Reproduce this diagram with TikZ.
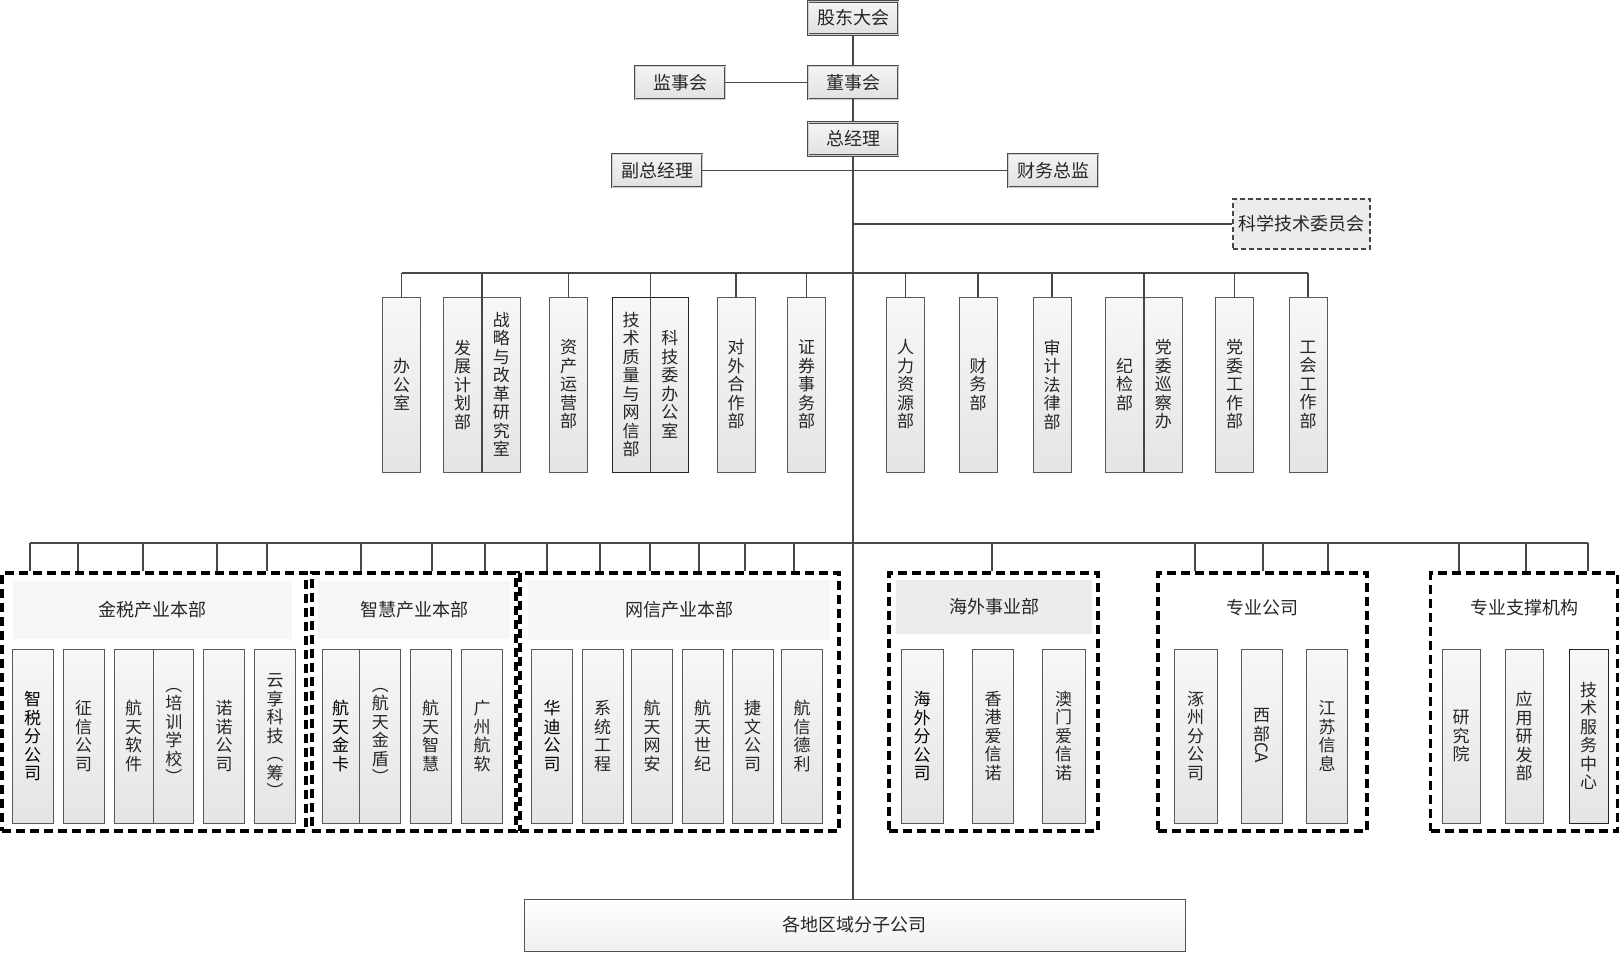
\documentclass[tikz,border=0pt]{standalone}
\usepackage{fontspec}
\usepackage{graphicx}
\setmainfont{Noto Sans CJK SC}
\newcommand\busdrop[2]{\draw[conn] (bus2 -| #1,0) -- (#2.north -| #1,0);}
\begin{document}
\begin{tikzpicture}[x=1pt,y=-1pt,
  conn/.style={draw=black!72, line width=1.2pt},
  topbox/.style={draw=black!70, double=gray!40, double distance=0.8pt, line width=0.8pt,
    top color=gray!8, bottom color=gray!24, minimum width=90pt, minimum height=33pt,
    inner sep=0pt, font=\fontsize{18}{20}\selectfont, text=black!85},
  col/.style={draw=gray!70!black, line width=0.8pt, top color=gray!6, bottom color=gray!21,
    minimum width=38pt, minimum height=175pt, inner sep=0pt, align=center,
    font=\fontsize{17}{18.5}\selectfont, text=black!85},
  dcol/.style={col, draw=black!85},
  kid/.style={col, minimum width=41pt, minimum height=174pt},
  grp/.style={draw=black, line width=3.2pt, dash pattern=on 9pt off 5pt, inner sep=0pt},
  band/.style={fill=gray!7, inner sep=0pt, font=\fontsize{18}{20}\selectfont, text=black!85},
  ttl/.style={inner sep=0pt, font=\fontsize{18}{20}\selectfont, text=black!85}
]
\useasboundingbox (0,0) rectangle (1621,954);

% top hierarchy
\node[topbox] (gd) at (853,18) {股东大会};
\node[topbox] (dsh) at (853,82.5) {董事会};
\node[topbox] (jsh) at (680,82.5) {监事会};
\node[topbox] (zjl) at (853,139) {总经理};
\node[topbox] (fzjl) at (657,170.5) {副总经理};
\node[topbox] (cwzj) at (1053,170.5) {财务总监};
\node[draw=gray!55!black, line width=1.2pt, dash pattern=on 5pt off 3pt, fill=gray!16,
  minimum width=137pt, minimum height=50pt, inner sep=0pt,
  font=\fontsize{18}{20}\selectfont, text=black!85] (kjw) at (1301.5,224) {科学技术委员会};

% bottom box
\node[draw=gray!65!black, line width=1pt, top color=white, bottom color=gray!12,
  minimum width=661pt, minimum height=52pt, inner sep=0pt,
  font=\fontsize{18}{20}\selectfont, text=black!85] (dq) at (854.5,925) {各地区域分子公司};

% departments row
\node[col] (c1) at (401.5,384.5) {办\\公\\室};
\node[col] (c2) at (462.5,384.5) {发\\展\\计\\划\\部};
\node[col, anchor=west] (c3) at (c2.east) {战\\略\\与\\改\\革\\研\\究\\室};
\node[col] (c4) at (568.5,384.5) {资\\产\\运\\营\\部};
\node[dcol] (c5) at (631,384.5) {技\\术\\质\\量\\与\\网\\信\\部};
\node[dcol, anchor=west] (c6) at (c5.east) {科\\技\\委\\办\\公\\室};
\node[col] (c7) at (736,384.5) {对\\外\\合\\作\\部};
\node[col] (c8) at (806.5,384.5) {证\\券\\事\\务\\部};
\node[col] (c9) at (905.5,384.5) {人\\力\\资\\源\\部};
\node[col] (c10) at (978,384.5) {财\\务\\部};
\node[col] (c11) at (1052,384.5) {审\\计\\法\\律\\部};
\node[col] (c12) at (1124.5,384.5) {纪\\检\\部};
\node[col, anchor=west] (c13) at (c12.east) {党\\委\\巡\\察\\办};
\node[col] (c14) at (1234.5,384.5) {党\\委\\工\\作\\部};
\node[col] (c15) at (1308,384.5) {工\\会\\工\\作\\部};

% groups
\node[grp, minimum width=304pt, minimum height=258pt] (gJS) at (154,702) {};
\node[grp, minimum width=204pt, minimum height=258pt] (gZH) at (414,702) {};
\node[grp, minimum width=319pt, minimum height=258pt] (gWX) at (679.5,702) {};
\node[grp, minimum width=209pt, minimum height=258pt] (gHW) at (993.5,702) {};
\node[grp, minimum width=209pt, minimum height=258pt] (gZY) at (1262.5,702) {};
\node[grp, minimum width=187pt, minimum height=258pt] (gZC) at (1524,702) {};

\node[band, minimum width=279pt, minimum height=58pt] (tJS) at (152.5,610) {金税产业本部};
\node[band, minimum width=192pt, minimum height=58pt] (tZH) at (414,610) {智慧产业本部};
\node[band, minimum width=302pt, minimum height=60pt] (tWX) at (679,610) {网信产业本部};
\node[band, fill=gray!15, minimum width=196pt, minimum height=54pt] (tHW) at (994,607) {海外事业部};
\node[ttl] (tZY) at (1262.5,608) {专业公司};
\node[ttl] (tZC) at (1524.5,608) {专业支撑机构};

% group members
\node[kid, text=black] (k1) at (32.5,736) {智\\税\\分\\公\\司};
\node[kid] (k2) at (83.5,736) {征\\信\\公\\司};
\node[kid, minimum width=39pt] (k3) at (133.5,736) {航\\天\\软\\件};
\node[kid, minimum width=40pt, anchor=west] (k4) at (k3.east) {︵\\培\\训\\学\\校\\︶};
\node[kid] (k5) at (224,736) {诺\\诺\\公\\司};
\node[kid] (k6) at (275,736) {云\\享\\科\\技\\︵\\筹\\︶};

\node[kid, minimum width=37pt, text=black] (k7) at (340.5,736) {航\\天\\金\\卡};
\node[kid, anchor=west] (k8) at (k7.east) {︵\\航\\天\\金\\盾\\︶};
\node[kid] (k9) at (430.5,736) {航\\天\\智\\慧};
\node[kid] (k10) at (482,736) {广\\州\\航\\软};

\node[kid, text=black] (k11) at (552,736) {华\\迪\\公\\司};
\node[kid] (k12) at (602.5,736) {系\\统\\工\\程};
\node[kid] (k13) at (652,736) {航\\天\\网\\安};
\node[kid] (k14) at (702.5,736) {航\\天\\世\\纪};
\node[kid] (k15) at (752.5,736) {捷\\文\\公\\司};
\node[kid] (k16) at (802,736) {航\\信\\德\\利};

\node[kid, minimum width=42pt, text=black] (k17) at (922,736) {海\\外\\分\\公\\司};
\node[kid] (k18) at (993,736) {香\\港\\爱\\信\\诺};
\node[kid, minimum width=43pt] (k19) at (1063.5,736) {澳\\门\\爱\\信\\诺};

\node[kid, minimum width=43pt] (k20) at (1195.5,736) {涿\\州\\分\\公\\司};
\node[kid] (k21) at (1261.5,736) {西\\部\\\rotatebox[origin=c]{-90}{CA}};
\node[kid] (k22) at (1327,736) {江\\苏\\信\\息};

\node[kid, minimum width=38pt] (k23) at (1461,736) {研\\究\\院};
\node[kid, minimum width=38pt] (k24) at (1524,736) {应\\用\\研\\发\\部};
\node[kid, minimum width=39pt, draw=black!85] (k25) at (1588.5,736) {技\\术\\服\\务\\中\\心};

% connectors: top
\draw[conn] (gd) -- (dsh);
\draw[conn] (jsh) -- (dsh);
\draw[conn] (dsh) -- (zjl);
\draw[conn] (fzjl) -- (cwzj);
\draw[conn] (zjl.south) -- (dq.north -| zjl.south);
\draw[conn] (zjl.south |- kjw.west) -- (kjw.west);

% bus 1
\coordinate (bus1) at (853,273);
\draw[conn] (c1.north |- bus1) -- (c15.north |- bus1);
\foreach \n in {c1,c4,c7,c8,c9,c10,c11,c14,c15}{\draw[conn] (\n.north) -- (\n.north |- bus1);}
\foreach \n in {c2,c5,c12}{\draw[conn] (\n.south east) -- (\n.north east |- bus1);}

% bus 2
\coordinate (bus2) at (853,543);
\draw[conn] (bus2 -| 30,0) -- (bus2 -| 1588,0);
\foreach \x in {30,78,143,217,267}{\busdrop{\x}{gJS}}
\foreach \x in {361,432,485}{\busdrop{\x}{gZH}}
\foreach \x in {547,600,650,699,745,794}{\busdrop{\x}{gWX}}
\busdrop{992}{gHW}
\foreach \x in {1195,1263,1328}{\busdrop{\x}{gZY}}
\foreach \x in {1459,1526,1588}{\busdrop{\x}{gZC}}
\end{tikzpicture}
\end{document}
